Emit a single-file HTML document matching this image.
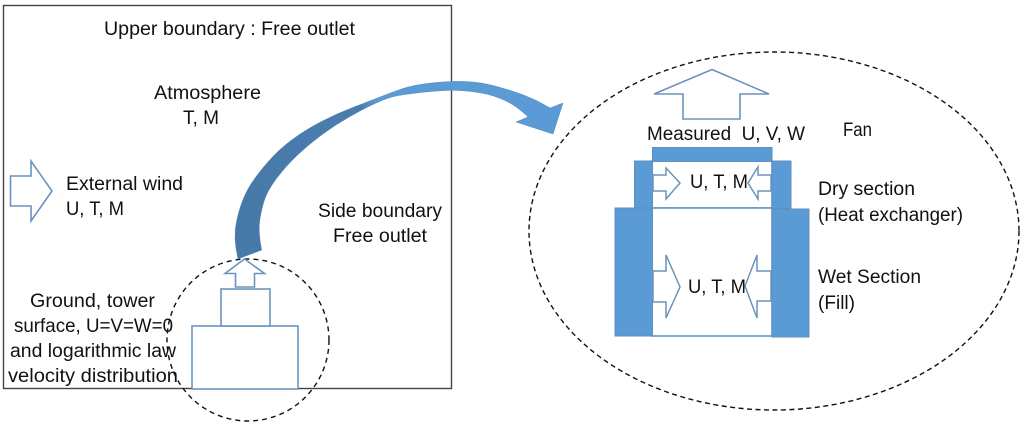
<!DOCTYPE html>
<html>
<head>
<meta charset="utf-8">
<style>
html,body{margin:0;padding:0;background:#fff;width:1024px;height:427px;overflow:hidden}
svg{display:block;filter:blur(0.35px)}
text{font-family:"Liberation Sans",sans-serif;font-size:19px;fill:#111}
</style>
</head>
<body>
<svg width="1024" height="427" viewBox="0 0 1024 427" xmlns="http://www.w3.org/2000/svg">
<defs>
<linearGradient id="g" gradientUnits="userSpaceOnUse" x1="236" y1="0" x2="563" y2="0">
<stop offset="0" stop-color="#4779a8"/>
<stop offset="0.38" stop-color="#4a7dae"/>
<stop offset="0.43" stop-color="#5b9bd5"/>
<stop offset="1" stop-color="#5b9bd5"/>
</linearGradient>
</defs>

<rect x="3.5" y="5.5" width="448" height="383" fill="#fff" stroke="#444" stroke-width="1.4"/>

<!-- curved arrow -->
<path d="M238 259 L236 248.500 Q234.300 238 235.500 228 Q236.700 218 240.800 205.500 Q245 193 251.600 183 Q258.300 173 268.300 161.500 Q278.300 150 291.600 140 Q305 130 321.500 121.500 Q338 113 354 107 Q370 101 380 97 Q390 93 401.500 89 Q413 85 431.500 83 Q450 81 465 81.500 Q480 82 495 86 Q510 90 523.500 95 Q537 100 550 108 L563 103 L553 134 L516 122 L528 117 Q517 106 505 100.500 Q493 95 481.500 93 Q470 91 460 90.500 Q450 90 436.500 91 Q423 92 410 93.800 Q397 95.500 391 97.200 Q385 99 375 103.500 Q365 108 350 116.500 Q335 125 321.500 135 Q308 145 296.500 156 Q285 167 276.500 178.500 Q268 190 264.800 199 Q261.700 208 259.800 220 Q258 232 261.700 250 Z" fill="url(#g)" stroke="#5288ba" stroke-width="0.5"/>

<!-- dashed ellipses -->
<circle cx="248" cy="340" r="81" fill="none" stroke="#111" stroke-width="1.4" stroke-dasharray="5 4"/>
<ellipse cx="774" cy="231" rx="245" ry="179" fill="none" stroke="#111" stroke-width="1.4" stroke-dasharray="5 3.5"/>

<g fill="#fff" stroke="#6a94bd" stroke-width="1.6">
<!-- tower -->
<rect x="192" y="326" width="106" height="63"/>
<rect x="221" y="289" width="49" height="37"/>
<path d="M244.500 259 L264.500 273.500 L254.500 273.500 L254.500 287 L235.500 287 L235.500 273.500 L225 273.500 Z"/>
<!-- external wind -->
<path d="M10.500 176 L31 176 L31 161 L52 191 L31 221 L31 206 L10.500 206 Z"/>
<!-- fan arrow -->
<path d="M712 69.500 L769 94 L740 94 L740 119 L683 119 L683 94 L654 94 Z"/>
<!-- inner rects -->
<rect x="652" y="161" width="120" height="47"/>
<rect x="652" y="208" width="120" height="128"/>
</g>

<g fill="#5b9bd5" stroke="#5f8fbc" stroke-width="1">
<rect x="652.500" y="147.500" width="119.500" height="14"/>
<rect x="634.500" y="161" width="18" height="47"/>
<rect x="772" y="161" width="19" height="47.500"/>
<rect x="615" y="208" width="37.500" height="128"/>
<rect x="772" y="209" width="37" height="128"/>
</g>

<g fill="#fff" stroke="#6a94bd" stroke-width="1.5">
<path d="M653 175 L666 175 L666 168 L680 183 L666 199 L666 191 L653 191 Z"/>
<path d="M771 175 L758 175 L758 167 L748 183 L758 199 L758 191 L771 191 Z"/>
<path d="M653 271 L666 271 L666 255 L680 287 L666 318 L666 302 L653 302 Z"/>
<path d="M771 271 L757 271 L757 255 L745 286 L757 318 L757 301 L771 301 Z"/>
</g>

<text x="104" y="35" textLength="251" lengthAdjust="spacingAndGlyphs">Upper boundary : Free outlet</text>
<text x="154" y="99" textLength="107" lengthAdjust="spacingAndGlyphs">Atmosphere</text>
<text x="183" y="124" textLength="36" lengthAdjust="spacingAndGlyphs">T, M</text>
<text x="66" y="190" textLength="117" lengthAdjust="spacingAndGlyphs">External wind</text>
<text x="66" y="215" textLength="58" lengthAdjust="spacingAndGlyphs">U, T, M</text>
<text x="318" y="217" textLength="124" lengthAdjust="spacingAndGlyphs">Side boundary</text>
<text x="333" y="242" textLength="94" lengthAdjust="spacingAndGlyphs">Free outlet</text>
<text x="30" y="307" textLength="125" lengthAdjust="spacingAndGlyphs">Ground, tower</text>
<text x="14" y="332" textLength="159" lengthAdjust="spacingAndGlyphs">surface, U=V=W=0</text>
<text x="10" y="357" textLength="166" lengthAdjust="spacingAndGlyphs">and logarithmic law</text>
<text x="8" y="382" textLength="170" lengthAdjust="spacingAndGlyphs">velocity distribution</text>
<text x="647" y="140" textLength="158" lengthAdjust="spacingAndGlyphs" xml:space="preserve">Measured  U, V, W</text>
<text x="843" y="136" textLength="29" lengthAdjust="spacingAndGlyphs">Fan</text>
<text x="690" y="188" textLength="58" lengthAdjust="spacingAndGlyphs">U, T, M</text>
<text x="688" y="293" textLength="58" lengthAdjust="spacingAndGlyphs">U, T, M</text>
<text x="818" y="195" textLength="97" lengthAdjust="spacingAndGlyphs">Dry section</text>
<text x="818" y="221" textLength="145" lengthAdjust="spacingAndGlyphs">(Heat exchanger)</text>
<text x="818" y="283" textLength="103" lengthAdjust="spacingAndGlyphs">Wet Section</text>
<text x="818" y="309" textLength="37" lengthAdjust="spacingAndGlyphs">(Fill)</text>
</svg>
</body>
</html>
